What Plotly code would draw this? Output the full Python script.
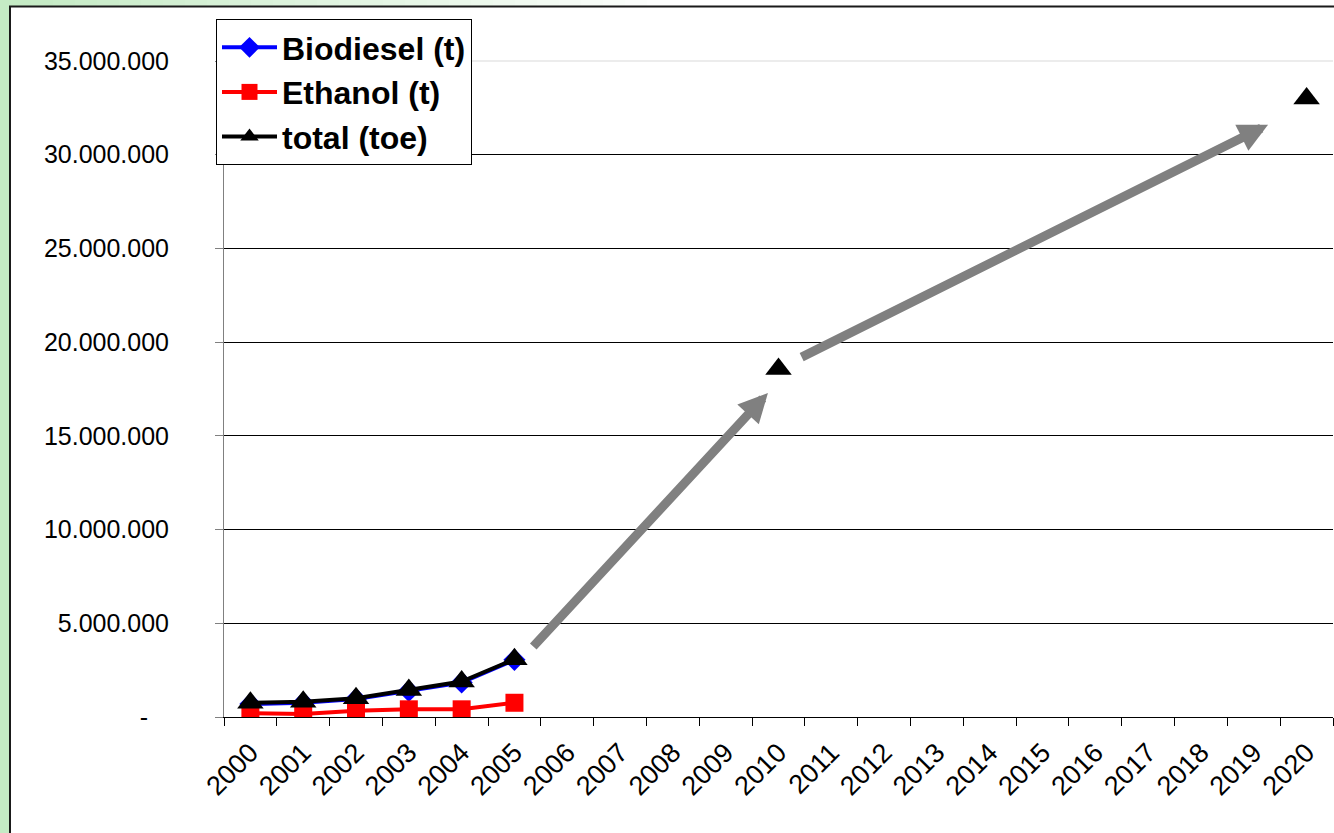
import plotly.graph_objects as go

years = [str(y) for y in range(2000, 2021)]
biodiesel = [690000, 760000, 960000, 1390000, 1840000, 3050000] + [None] * 15
ethanol = [200000, 160000, 340000, 410000, 410000, 760000] + [None] * 15
total = ([760000, 820000, 1000000, 1440000, 1890000, 3080000]
         + [None] * 4 + [18570000] + [None] * 9 + [33000000])

ytick_vals = [0, 5e6, 10e6, 15e6, 20e6, 25e6, 30e6, 35e6]
ytick_text = ["-\u2007\u00a0", "5.000.000", "10.000.000", "15.000.000", "20.000.000",
              "25.000.000", "30.000.000", "35.000.000"]

# gray trend arrows: (tail_x_index, tail_value, head_x_index, head_value)
arrows = [(5.33, 3.68e6, 9.80, 17.29e6), (10.41, 19.16e6, 19.27, 31.6e6)]

W, H = 1334, 833
L, R, T, B = 224, 1, 61, 116
pw, ph = W - L - R, H - T - B


def px_x(p):
    return (p - L) / pw


def px_y(p):
    return (H - B - p) / ph


fig = go.Figure()
fig.add_trace(go.Scatter(x=years, y=biodiesel, name="Biodiesel (t)", mode="lines+markers",
                         line=dict(color="#0000ff", width=4),
                         marker=dict(symbol="diamond", size=17, color="#0000ff")))
fig.add_trace(go.Scatter(x=years, y=ethanol, name="Ethanol (t)", mode="lines+markers",
                         line=dict(color="#ff0000", width=4),
                         marker=dict(symbol="square", size=18, color="#ff0000")))
fig.add_trace(go.Scatter(x=years, y=total, name="total (toe)", mode="lines+markers",
                         line=dict(color="#000000", width=4),
                         marker=dict(symbol="triangle-up", size=23, color="#000000")))

anns = []
for tx, ty, hx, hy in arrows:
    anns.append(dict(x=hx, y=hy, ax=tx, ay=ty, xref="x", yref="y", axref="x", ayref="y",
                     text="", showarrow=True, arrowhead=2, arrowsize=0.65, arrowwidth=9,
                     arrowcolor="#808080"))

shapes = []
green = (197, 235, 197)
# left green strip
shapes.append(dict(type="rect", xref="paper", yref="paper", x0=px_x(0), x1=px_x(9.5),
                   y0=px_y(H), y1=px_y(0), fillcolor="rgb(197,235,197)", line_width=0,
                   layer="below"))
# top gradient strip
n = 30
for i in range(n):
    f = i / n
    c = tuple(int(g + (255 - g) * f) for g in green)
    shapes.append(dict(type="rect", xref="paper", yref="paper",
                       x0=px_x(9 + i * 22), x1=px_x(9 + (i + 1) * 22 + 1),
                       y0=px_y(6), y1=px_y(0), fillcolor="rgb(%d,%d,%d)" % c, line_width=0,
                       layer="below"))
# black frame
shapes.append(dict(type="line", xref="paper", yref="paper", x0=px_x(10), x1=px_x(10),
                   y0=px_y(6), y1=px_y(H), line=dict(color="#1a1a1a", width=2)))
shapes.append(dict(type="line", xref="paper", yref="paper", x0=px_x(9), x1=px_x(W),
                   y0=px_y(6.5), y1=px_y(6.5), line=dict(color="#1a1a1a", width=2)))
# faint top gridline (as in the original)
shapes.append(dict(type="line", xref="paper", yref="paper", x0=0, x1=1, y0=1, y1=1,
                   line=dict(color="#e6e6e6", width=1.5), layer="above"))

fig.update_layout(
    width=W, height=H,
    margin=dict(l=L, r=R, t=T, b=B, autoexpand=False),
    paper_bgcolor="white", plot_bgcolor="white",
    font=dict(family="Liberation Sans, Arial, sans-serif", size=25, color="black"),
    showlegend=True,
    legend=dict(x=px_x(216), y=px_y(19), xanchor="left", yanchor="top",
                bgcolor="white", bordercolor="black", borderwidth=1,
                font=dict(size=32, weight="bold", color="black"),
                itemwidth=55, tracegroupgap=0),
    xaxis=dict(type="category", tickson="boundaries", tickangle=-45,
               showline=True, linecolor="#000000", linewidth=1,
               ticks="outside", ticklen=8, tickcolor="#000000",
               tickfont=dict(size=27), ticklabelstandoff=8, automargin=False,
               showgrid=False, range=[-0.5, 20.5], fixedrange=True),
    yaxis=dict(range=[0, 35e6], tickvals=ytick_vals, ticktext=ytick_text,
               showline=True, linecolor="#808080", linewidth=1,
               ticks="outside", ticklen=8, tickcolor="#808080",
               showgrid=True, gridcolor="#000000", gridwidth=1, automargin=False,
               zeroline=False, ticklabelstandoff=41, fixedrange=True),
    annotations=anns,
    shapes=shapes,
)

fig.write_html("out.html", config={"displayModeBar": False},
               post_script="document.body.style.margin='0';document.body.style.overflow='hidden';")
